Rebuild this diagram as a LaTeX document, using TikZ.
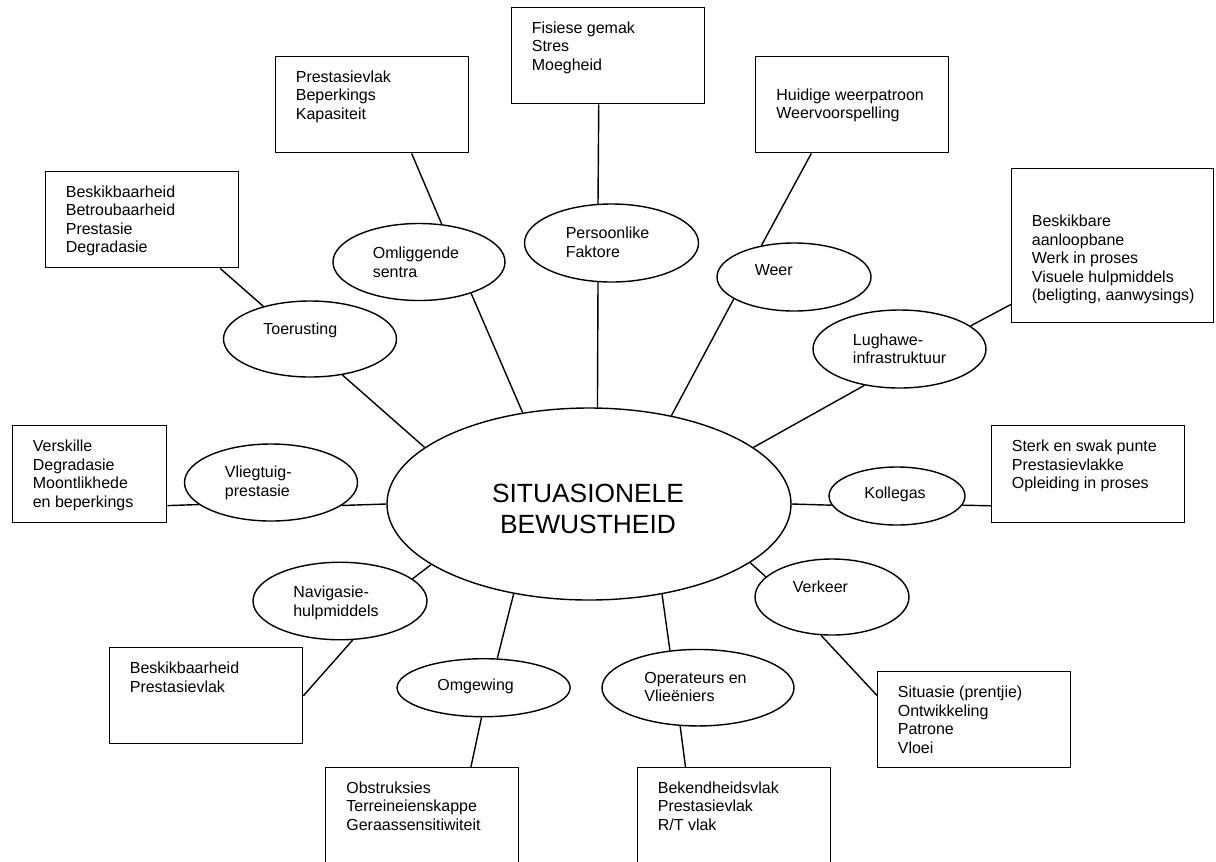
\documentclass[tikz,border=0pt]{standalone}
\usepackage{fontspec}
\setmainfont{Liberation Sans}
\usetikzlibrary{positioning,shapes.geometric}
\tikzset{
  link/.style={line width=0.8pt,draw=black},
  core/.style={ellipse,draw,line width=0.8pt,minimum width=80.8mm,minimum height=38.4mm,inner sep=0pt},
  topic/.style={ellipse,draw,line width=0.8pt,minimum width=34.6mm,minimum height=15.4mm,inner sep=0pt},
  facet/.style={rectangle,draw,line width=0.8pt,minimum width=38.6mm,minimum height=19.2mm,inner sep=0pt,anchor=north west},
  bodytext/.style={inner sep=0pt,align=left,font=\fontsize{9.1pt}{10.5pt}\selectfont},
  topictext/.style={bodytext,anchor=north west},
  coretext/.style={inner sep=0pt,align=center,font=\fontsize{15pt}{17.3pt}\selectfont}
}
\begin{document}
\begin{tikzpicture}[x=0.2mm,y=-0.2mm]
  \useasboundingbox (0,0) rectangle (1216,861);

  \node[core] (hub) at (589,504) {};
  \node[coretext] (hub-t) at (588,509) {SITUASIONELE\\BEWUSTHEID};

  % ellipses round the hub
  \node[topic,minimum height=15.2mm] (toer) at (310,339) {};
  \node[topic,minimum width=34.4mm] (omlig) at (419,262) {};
  \node[topic,minimum width=34.8mm,minimum height=15.6mm] (pers) at (611.5,243) {};
  \node[topic,minimum width=30.8mm,minimum height=13.6mm] (weer) at (794,277) {};
  \node[topic,minimum height=15.6mm] (lugh) at (899.5,349) {};
  \node[topic] (vlieg) at (271,482.5) {};
  \node[topic,minimum width=34.8mm,minimum height=15.5mm] (navig) at (340,601) {};
  \node[topic,minimum height=11.6mm] (omgew) at (483.6,687.7) {};
  \node[topic,minimum width=27.2mm,minimum height=11.6mm] (kolleg) at (897,496) {};
  \node[topic,minimum width=30.8mm,minimum height=15.2mm] (verkeer) at (832,597) {};
  \node[topic,minimum width=38.4mm,minimum height=15.3mm] (oper) at (698,687.7) {};

  \node[topictext] (toer-t) at (263,323) {Toerusting};
  \node[topictext] (omlig-t) at (372.5,246.7) {Omliggende\\sentra};
  \node[topictext] (pers-t) at (565.4,226.7) {Persoonlike\\Faktore};
  \node[topictext] (weer-t) at (754.4,264) {Weer};
  \node[topictext] (lugh-t) at (852.6,333.3) {Lughawe-\\infrastruktuur};
  \node[topictext] (vlieg-t) at (224.6,465.7) {Vliegtuig-\\prestasie};
  \node[topictext] (navig-t) at (293,585.7) {Navigasie-\\hulpmiddels};
  \node[topictext] (omgew-t) at (437,678.3) {Omgewing};
  \node[topictext] (kolleg-t) at (864,486.7) {Kollegas};
  \node[topictext] (verkeer-t) at (792.5,580.7) {Verkeer};
  \node[topictext] (oper-t) at (644,672) {Operateurs en\\Vlie\"eniers};

  % boxes with the details
  \node[facet] (toer-box) at (45,171) {};
  \node[facet] (omlig-box) at (275,56) {};
  \node[facet] (pers-box) at (511,7) {};
  \node[facet] (weer-box) at (755,56) {};
  \node[facet,minimum width=40.4mm,minimum height=30.8mm] (lugh-box) at (1011,168) {};
  \node[facet,minimum width=30.8mm,minimum height=19.4mm] (vlieg-box) at (12,425) {};
  \node[facet,minimum height=19.4mm] (kolleg-box) at (991,425) {};
  \node[facet] (navig-box) at (109,647) {};
  \node[facet] (verkeer-box) at (877,671) {};
  \node[facet] (omgew-box) at (325,767) {};
  \node[facet] (oper-box) at (637,767) {};

  \node[bodytext,below right=2.9mm and 4.1mm of toer-box.north west] (toer-list) {Beskikbaarheid\\Betroubaarheid\\Prestasie\\Degradasie};
  \node[bodytext,below right=2.9mm and 4.1mm of omlig-box.north west] (omlig-list) {Prestasievlak\\Beperkings\\Kapasiteit};
  \node[bodytext,below right=2.9mm and 4.1mm of pers-box.north west] (pers-list) {Fisiese gemak\\Stres\\Moegheid};
  \node[bodytext,below right=6.5mm and 4.2mm of weer-box.north west] (weer-list) {Huidige weerpatroon\\Weervoorspelling};
  \node[bodytext,below right=9.4mm and 4.1mm of lugh-box.north west] (lugh-list) {Beskikbare\\aanloopbane\\Werk in proses\\Visuele hulpmiddels\\(beligting, aanwysings)};
  \node[bodytext,below right=3mm and 4.1mm of vlieg-box.north west] (vlieg-list) {Verskille\\Degradasie\\Moontlikhede\\en beperkings};
  \node[bodytext,below right=3mm and 4.1mm of kolleg-box.north west] (kolleg-list) {Sterk en swak punte\\Prestasievlakke\\Opleiding in proses};
  \node[bodytext,below right=3mm and 4.1mm of navig-box.north west] (navig-list) {Beskikbaarheid\\Prestasievlak};
  \node[bodytext,below right=3mm and 4.1mm of verkeer-box.north west] (verkeer-list) {Situasie (prentjie)\\Ontwikkeling\\Patrone\\Vloei};
  \node[bodytext,below right=2.9mm and 4.2mm of omgew-box.north west] (omgew-list) {Obstruksies\\Terreineienskappe\\Geraassensitiwiteit};
  \node[bodytext,below right=2.9mm and 4.1mm of oper-box.north west] (oper-list) {Bekendheidsvlak\\Prestasievlak\\R/T vlak};

  \draw[link] (toer-box.-32) -- (toer.145);
  \draw[link] (toer.-48) -- (hub.161);
  \draw[link] (omlig-box.-51) -- (omlig.59);
  \draw[link] (omlig.-31) -- (hub.126);
  \draw[link] (pers-box.-101) -- (pers.109);
  \draw[link] (pers.-109) -- (hub.85);
  \draw[link] (weer-box.-130) -- (weer.136);
  \draw[link] (weer.-160) -- (hub.47);
  \draw[link] (lugh-box.-150) -- (lugh.18);
  \draw[link] (lugh.-134) -- (hub.19);
  \draw[link] (vlieg-box.-22) -- (vlieg.-163);
  \draw[link] (vlieg.-18) -- (hub.180);
  \draw[link] (navig.17) -- (hub.-159);
  \draw[link] (navig.-72) -- (navig-box.east);
  \draw[link] (omgew.65) -- (hub.-130);
  \draw[link] (omgew.-94) -- (omgew-box.45);
  \draw[link] (hub.0) -- (kolleg.-172);
  \draw[link] (kolleg.-8) -- (kolleg-box.-162);
  \draw[link] (hub.-20) -- (verkeer.163);
  \draw[link] (verkeer.-106) -- (verkeer-box.166);
  \draw[link] (hub.-51) -- (oper.127);
  \draw[link] (oper.-115) -- (oper-box.135);
\end{tikzpicture}
\end{document}
